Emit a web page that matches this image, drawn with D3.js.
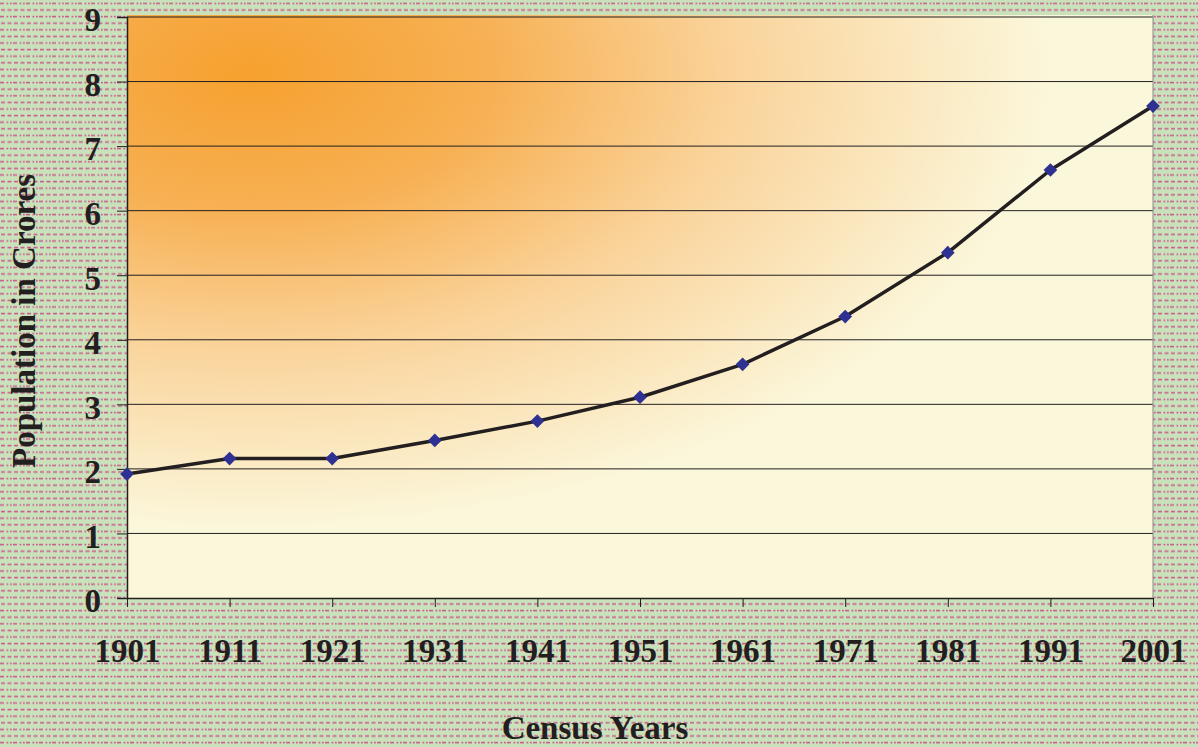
<!DOCTYPE html>
<html>
<head>
<meta charset="utf-8">
<script src="https://cdn.jsdelivr.net/npm/d3@7"></script>
<style>
  body { margin: 0; padding: 0; overflow: hidden; }
  svg { display: block; }
</style>
</head>
<body>
<svg id="chart" width="1198" height="747"></svg>
<script>
// Chart data
const years = ['1901', '1911', '1921', '1931', '1941', '1951', '1961', '1971', '1981', '1991', '2001'];
const population = [1.92, 2.16, 2.16, 2.44, 2.74, 3.11, 3.62, 4.36, 5.35, 6.63, 7.62];
const yTicks = [0, 1, 2, 3, 4, 5, 6, 7, 8, 9];

const W = 1198, H = 747;
const margin = {top: 17, right: 45, bottom: 149, left: 127};
const width = W - margin.left - margin.right;
const height = H - margin.top - margin.bottom;
const serif = '"Liberation Serif", "Times New Roman", serif';

const svg = d3.select('#chart');
const defs = svg.append('defs');

// Dashed green/pink background pattern (two rows per tile)
const pat = defs.append('pattern')
    .attr('id', 'bgPattern')
    .attr('patternUnits', 'userSpaceOnUse')
    .attr('width', 13)
    .attr('height', 13.2);
pat.append('rect').attr('width', 13).attr('height', 13.2).attr('fill', '#c9e2bb');
[[0, 2.6, 4], [6.5, 2.6, 1.8], [10, 2.6, 1.8], [1, 9.2, 4], [7.5, 9.2, 4]].forEach(d => {
    pat.append('rect')
        .attr('x', d[0]).attr('y', d[1])
        .attr('width', d[2]).attr('height', 1.6)
        .attr('fill', '#c8618d');
});

// Orange glow in the plot area
const grad = defs.append('radialGradient')
    .attr('id', 'plotGrad')
    .attr('cx', 0.12).attr('cy', 0.1)
    .attr('fx', 0.12).attr('fy', 0.1)
    .attr('r', 0.78);
grad.append('stop').attr('offset', '0%').attr('stop-color', '#f6a12f');
grad.append('stop').attr('offset', '30%').attr('stop-color', '#f7b053');
grad.append('stop').attr('offset', '60%').attr('stop-color', '#fad39a');
grad.append('stop').attr('offset', '100%').attr('stop-color', '#fbf7db');

svg.append('rect').attr('width', W).attr('height', H).attr('fill', 'url(#bgPattern)');

const g = svg.append('g').attr('transform', `translate(${margin.left},${margin.top})`);

g.append('rect')
    .attr('y', -2)
    .attr('width', width).attr('height', height + 2)
    .attr('fill', '#fbf8dc');
g.append('rect')
    .attr('y', -2)
    .attr('width', width).attr('height', height + 2)
    .attr('fill', 'url(#plotGrad)');

// Scales
const x = d3.scalePoint().domain(years).range([0, width]);
const y = d3.scaleLinear().domain([0, 9]).range([height, 0]);

// Gridlines
g.selectAll('.grid')
    .data(yTicks.filter(d => d > 0))
    .enter()
    .append('line')
    .attr('x1', 0).attr('x2', width)
    .attr('y1', d => y(d)).attr('y2', d => y(d))
    .attr('stroke', '#231f20')
    .attr('stroke-width', 1);

// Right border
g.append('line')
    .attr('x1', width).attr('x2', width)
    .attr('y1', -2).attr('y2', height)
    .attr('stroke', '#8a8a8a')
    .attr('stroke-width', 1);

// Y axis
const yAxis = g.append('g')
    .call(d3.axisLeft(y).tickValues(yTicks).tickSize(10).tickPadding(16).tickFormat(d3.format('d')));
yAxis.select('.domain').attr('stroke', '#231f20').attr('stroke-width', 1.5);
yAxis.selectAll('.tick line').attr('stroke', '#231f20');
yAxis.selectAll('text')
    .attr('dy', '0.42em')
    .attr('font-family', serif)
    .attr('font-weight', 'bold')
    .attr('font-size', 33)
    .attr('fill', '#231f20');

// X axis
const xAxis = g.append('g')
    .attr('transform', `translate(0,${height})`)
    .call(d3.axisBottom(x).tickSize(9).tickSizeOuter(0).tickPadding(32));
xAxis.select('.domain').attr('stroke', '#231f20').attr('stroke-width', 1.5);
xAxis.selectAll('.tick line').attr('stroke', '#231f20');
xAxis.selectAll('text')
    .attr('font-family', serif)
    .attr('font-weight', 'bold')
    .attr('font-size', 33)
    .attr('fill', '#231f20');

// Line
g.append('path')
    .datum(population)
    .attr('fill', 'none')
    .attr('stroke', '#231f20')
    .attr('stroke-width', 3.5)
    .attr('stroke-linejoin', 'round')
    .attr('d', d3.line()
        .x((d, i) => x(years[i]))
        .y(d => y(d)));

// Diamond markers
g.selectAll('.marker')
    .data(population)
    .enter()
    .append('path')
    .attr('transform', (d, i) => `translate(${x(years[i])},${y(d)})`)
    .attr('d', d3.symbol().type(d3.symbolDiamond2).size(120))
    .attr('fill', '#2e3192');

// Axis titles
svg.append('text')
    .attr('x', 595)
    .attr('y', 739)
    .attr('text-anchor', 'middle')
    .attr('font-family', serif)
    .attr('font-weight', 'bold')
    .attr('font-size', 33)
    .attr('fill', '#231f20')
    .text('Census Years');

svg.append('text')
    .attr('transform', 'translate(35,321) rotate(-90)')
    .attr('text-anchor', 'middle')
    .attr('font-family', serif)
    .attr('font-weight', 'bold')
    .attr('font-size', 33)
    .attr('fill', '#231f20')
    .text('Population in Crores');
</script>
</body>
</html>
